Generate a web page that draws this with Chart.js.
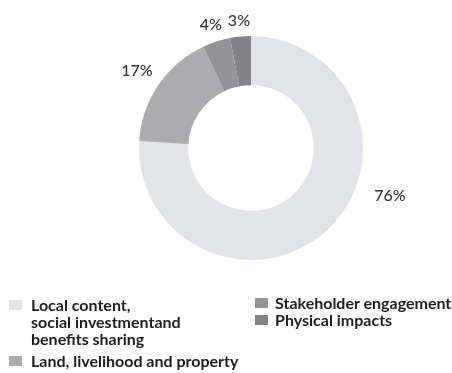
<!DOCTYPE html>
<html>
<head>
<meta charset="utf-8">
<script src="https://cdn.jsdelivr.net/npm/chart.js@4"></script>
<style>
    html, body { margin: 0; padding: 0; background: #fff; }
    body { width: 452px; height: 373px; position: relative; overflow: hidden; font-family: Lato, sans-serif; }
    #chartBox { position: absolute; left: 0; top: 0; width: 452px; height: 296px; }
    .legend { position: absolute; color: #1e1e1e; font-size: 16px; font-weight: 700; line-height: 17px; }
    .legend .item { position: relative; padding-left: 22px; margin-bottom: 5px; }
    #legendRight .item { margin-bottom: 0; padding-left: 20px; }
    .legend .box { position: absolute; left: 0; top: 4px; width: 13px; height: 10px; }
</style>
</head>
<body>
<div id="chartBox"><canvas id="donut"></canvas></div>
<div class="legend" id="legendLeft" style="left: 9px; top: 296px; width: 240px;"></div>
<div class="legend" id="legendRight" style="left: 255px; top: 294px; width: 200px;"></div>
<script>
    // Issue categories and shares (%)
    const categories = [
        'Local content,\nsocial investmentand\nbenefits sharing',
        'Land, livelihood and property',
        'Stakeholder engagement',
        'Physical impacts'
    ];
    const shares = [76, 17, 4, 3];
    const sliceColors = ['#e2e3e7', '#acacae', '#949496', '#848486'];
    const legendColumn = [0, 0, 1, 1];

    // Build the two-column legend
    const cols = [document.getElementById('legendLeft'), document.getElementById('legendRight')];
    categories.forEach((cat, i) => {
        const item = document.createElement('div');
        item.className = 'item';
        item.innerHTML = `<span class="box" style="background:${sliceColors[i]}"></span>` +
            cat.split('\n').join('<br>');
        cols[legendColumn[i]].appendChild(item);
    });

    // Percent labels outside the ring
    const outsideLabels = {
        id: 'outsideLabels',
        afterDatasetsDraw(chart, args, opts) {
            const ctx = chart.ctx;
            const meta = chart.getDatasetMeta(0);
            ctx.save();
            ctx.font = '500 16px Lato, sans-serif';
            ctx.fillStyle = '#333';
            ctx.textAlign = 'center';
            ctx.textBaseline = 'middle';
            meta.data.forEach((arc, i) => {
                const p = arc.getProps(['x', 'y', 'startAngle', 'endAngle', 'outerRadius']);
                let ang = (p.startAngle + p.endAngle) / 2;
                if (opts.angles[i] !== undefined) ang = (opts.angles[i] - 90) * Math.PI / 180;
                const r = p.outerRadius + (opts.offsets[i] || 20);
                ctx.fillText(shares[i] + '%', p.x + Math.cos(ang) * r, p.y + Math.sin(ang) * r);
            });
            ctx.restore();
        }
    };

    new Chart(document.getElementById('donut'), {
        type: 'doughnut',
        data: {
            labels: categories,
            datasets: [{
                data: shares,
                backgroundColor: sliceColors,
                borderWidth: 0
            }]
        },
        options: {
            responsive: true,
            maintainAspectRatio: false,
            animation: false,
            cutout: '56%',
            layout: { padding: { left: 50, right: 0, top: 36, bottom: 36 } },
            plugins: {
                legend: { display: false },
                tooltip: { enabled: false },
                outsideLabels: { angles: { 0: 109 }, offsets: { 0: 35, 1: 26, 2: 18, 3: 16 } }
            }
        },
        plugins: [outsideLabels]
    });
</script>
</body>
</html>
